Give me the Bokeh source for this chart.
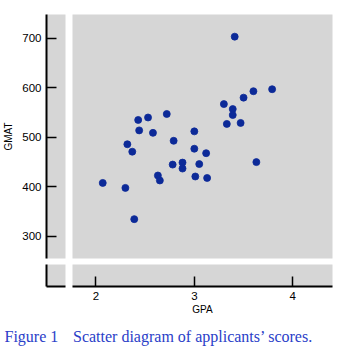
from bokeh.plotting import figure
from bokeh.models import Range1d, FixedTicker, Label
from bokeh.layouts import gridplot, column
from bokeh.embed import file_html
from bokeh.resources import INLINE

# Data
gpa = [2.07, 2.30, 2.39, 2.32, 2.37, 2.43, 2.44, 2.53, 2.58, 2.72, 2.63, 2.65,
       2.79, 2.78, 2.88, 2.88, 3.00, 3.00, 3.01, 3.05, 3.12, 3.13, 3.30, 3.39,
       3.39, 3.33, 3.47, 3.50, 3.60, 3.79, 3.63, 3.41]
gmat = [408, 398, 335, 486, 471, 535, 514, 540, 509, 547, 423, 413,
        493, 445, 449, 437, 512, 477, 421, 446, 468, 418, 567, 557,
        545, 527, 529, 580, 593, 597, 450, 703]
x_ticks = [2, 3, 4]
y_ticks = [300, 400, 500, 600, 700]
x_label = "GPA"
y_label = "GMAT"
caption_head = "Figure 1"
caption_text = "Scatter diagram of applicants\u2019 scores."

GRAY = "#d6d6d6"
DOT = "#0c2a98"
FONT = "Liberation Sans"

xr = Range1d(1.763, 4.403)
yr = Range1d(255.6, 747.7)


def base(width, height, x_range, y_range, left, right, top, bottom, xloc=None, yloc=None):
    f = figure(width=width, height=height, x_range=x_range, y_range=y_range,
               x_axis_location=xloc, y_axis_location=yloc,
               output_backend="svg", toolbar_location=None,
               min_border_left=left, min_border_right=right,
               min_border_top=top, min_border_bottom=bottom)
    f.background_fill_color = GRAY
    f.border_fill_color = "white"
    f.outline_line_color = None
    f.xgrid.visible = False
    f.ygrid.visible = False
    return f


def style_axis(ax, ticks):
    ax.ticker = FixedTicker(ticks=ticks)
    ax.axis_line_color = "black"
    ax.axis_line_width = 2
    ax.major_tick_in = 10
    ax.major_tick_out = 0
    ax.major_tick_line_color = "black"
    ax.major_tick_line_width = 1.5
    ax.minor_tick_line_color = None
    ax.major_label_text_font = FONT
    ax.major_label_text_font_size = "11.5px"
    ax.major_label_text_color = "black"
    ax.major_label_standoff = 5
    ax.axis_label_text_font = FONT
    ax.axis_label_text_font_size = "10px"
    ax.axis_label_text_font_style = "normal"
    ax.axis_label_text_color = "black"


# Left strip with y axis
A = base(72, 261, Range1d(0, 1), yr, 45, 7, 14, 3, xloc=None, yloc="left")
style_axis(A.yaxis[0], y_ticks)
A.yaxis[0].axis_label = y_label
A.yaxis[0].axis_label_standoff = 5

# Main panel
B = base(273, 261, xr, yr, 0, 13, 14, 3)
B.scatter(gpa, gmat, size=7, fill_color=DOT, line_color=DOT, line_width=0.8)

# Corner
C = base(72, 57, Range1d(0, 1), Range1d(0, 1), 45, 7, 3, 32, xloc="below", yloc="left")
style_axis(C.xaxis[0], [])
style_axis(C.yaxis[0], [])

# Bottom strip with x axis
D = base(273, 57, xr, Range1d(0, 1), 0, 13, 3, 32, xloc="below", yloc=None)
style_axis(D.xaxis[0], x_ticks)
D.xaxis[0].axis_label = x_label
D.xaxis[0].axis_label_standoff = 1

grid = gridplot([[A, B], [C, D]], toolbar_location=None)

# Caption
E = figure(width=345, height=29, x_range=Range1d(0, 1), y_range=Range1d(0, 1),
           x_axis_location=None, y_axis_location=None,
           output_backend="svg", toolbar_location=None,
           min_border=0)
E.outline_line_color = None
E.xgrid.visible = False
E.ygrid.visible = False
E.background_fill_color = "white"
for txt, xpos in [(caption_head, 4), (caption_text, 72.5)]:
    E.add_layout(Label(x=xpos, y=11, x_units="screen", y_units="screen", text=txt,
                       text_font="Liberation Serif", text_font_size="16px",
                       text_color="#2a40c8", text_baseline="alphabetic"))

p = column(grid, E)
open("out.html", "w").write(file_html(p, INLINE))
